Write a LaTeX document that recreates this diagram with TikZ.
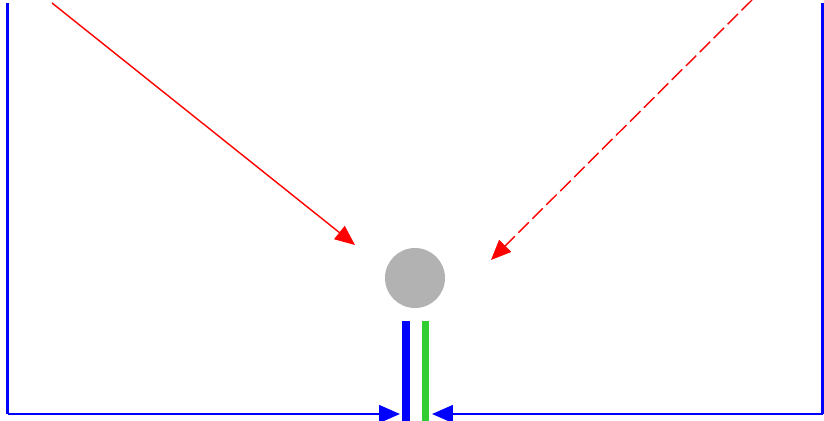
\documentclass[tikz,border=0pt]{standalone}
\usepackage{tikz}
\usetikzlibrary{arrows.meta}
\definecolor{limegreen}{RGB}{50,205,50}

\begin{document}
\begin{tikzpicture}[x=0.025cm, y=-0.025cm,
        ball/.style = {circle, fill=black!30, minimum size=1.5cm, inner sep=0pt},
        wall/.style = {blue, line width=1.6pt},
        ray/.style = {red, line width=1pt, -{Triangle[length=0.5cm, width=0.42cm]}},
        push/.style = {blue, line width=1.6pt, -{Triangle[length=0.52cm, width=0.44cm]}},
        bar/.style = {line width=5pt}]

        \useasboundingbox (0, 0) rectangle (824, 421);

        % walls and floor corners
        \coordinate (tl) at (7.5, 3);
        \coordinate (bl) at (7.5, 414);
        \coordinate (tr) at (822.5, 3);
        \coordinate (br) at (822.5, 414);
        \draw[wall] (tl) -- (bl);
        \draw[wall] (tr) -- (br);

        % the ball
        \node[ball] (b) at (415, 278) {};

        % incoming rays
        \coordinate (s1) at (52, 3);
        \coordinate (e1) at (355, 245);
        \coordinate (s2) at (752, 0);
        \coordinate (e2) at (491, 260);
        \draw[ray] (s1) -- (e1);
        \draw[ray, dash pattern=on 10.5pt off 3.5pt] (s2) -- (e2);

        % the two bars
        \coordinate (p1) at (406, 321);
        \coordinate (q1) at (406, 421);
        \coordinate (p2) at (425.5, 321);
        \coordinate (q2) at (425.5, 421);
        \draw[bar, blue] (p1) -- (q1);
        \draw[bar, limegreen] (p2) -- (q2);

        % pushing from both sides
        \coordinate (m1) at (400, 414);
        \coordinate (m2) at (432, 414);
        \draw[push] (bl) -- (m1);
        \draw[push] (br) -- (m2);
    \end{tikzpicture}
\end{document}
